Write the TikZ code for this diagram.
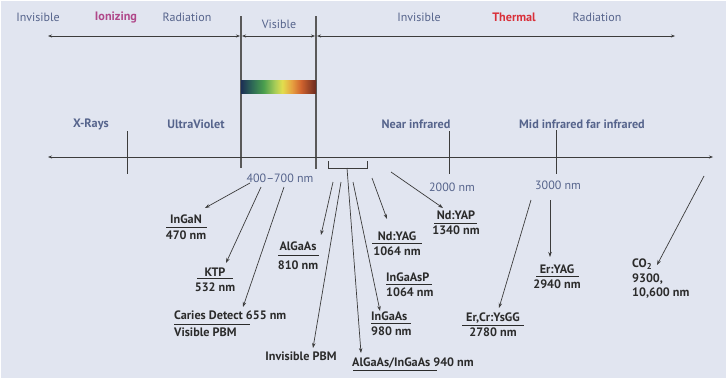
\documentclass[tikz,border=0pt]{standalone}
\usepackage{fontspec}
\setmainfont{PT Sans}
\usetikzlibrary{arrows.meta}
\definecolor{bg}{HTML}{E1E5F0}
\definecolor{slate}{HTML}{56648C}
\definecolor{ion}{HTML}{B0488A}
\definecolor{therm}{HTML}{D9303A}
\definecolor{ink}{HTML}{2B2B2B}
\definecolor{ln}{HTML}{3C3C3C}
\definecolor{sa}{HTML}{1C2F55}
\definecolor{sb}{HTML}{2E6A56}
\definecolor{sc}{HTML}{4A9E4E}
\definecolor{sd}{HTML}{A6CC58}
\definecolor{se}{HTML}{E2DE4E}
\definecolor{sf}{HTML}{E7A040}
\definecolor{sg}{HTML}{D0632E}
\definecolor{sh}{HTML}{6A2A20}
\pgfdeclarehorizontalshading{spec}{100bp}{color(0bp)=(sa); color(25bp)=(sa); color(32.5bp)=(sb); color(40bp)=(sc); color(47.5bp)=(sd); color(52.5bp)=(se); color(59bp)=(sf); color(65bp)=(sg); color(75bp)=(sh); color(100bp)=(sh)}
\tikzset{
  toptxt/.style={text=slate, font=\fontsize{12}{14}\selectfont, inner sep=0pt},
  bandtxt/.style={text=slate, font=\fontsize{12.2}{14}\selectfont\bfseries, inner sep=0pt},
  lab/.style={text=ink, font=\fontsize{12.2}{14}\selectfont\bfseries, inner sep=0pt},
  lrule/.style={draw=ink, line width=0.8pt},
  arr/.style={draw=ln, line width=0.7pt, -{Stealth[length=5pt,width=3.5pt]}},
  darr/.style={draw=ln, line width=0.6pt, {Stealth[length=4pt,width=3pt]}-{Stealth[length=4pt,width=3pt]}},
  tickline/.style={draw=ln, line width=0.9pt},
  divline/.style={draw=ln!85, line width=1.1pt},
}
\begin{document}
\begin{tikzpicture}[x=1pt,y=-1pt]
\useasboundingbox (0,0) rectangle (727,381);
\fill[bg] (1,1) rectangle (726,378);

% top texts
\node[toptxt] (inv1) at (38,17) {Invisible};
\node[toptxt, text=ion, font=\fontsize{12.2}{14}\selectfont\bfseries] (ioni) at (116,17) {Ionizing};
\node[toptxt] (rad1) at (187,17) {Radiation};
\node[toptxt] (vis) at (279,24) {Visible};
\node[toptxt] (inv2) at (419,17) {Invisible};
\node[toptxt, text=therm, font=\fontsize{12.2}{14}\selectfont\bfseries] (therm) at (514,17) {Thermal};
\node[toptxt] (rad2) at (597,17) {Radiation};

% dividers
\coordinate (d1t) at (241,16); \coordinate (d1b) at (241,168);
\coordinate (d2t) at (316,16); \coordinate (d2b) at (316,169);
\draw[divline] (d1t) -- (d1b);
\draw[divline] (d2t) -- (d2b);

% top arrows
\coordinate (a1l) at (48,36); \coordinate (a1r) at (240,36);
\coordinate (a2l) at (242,36); \coordinate (a2r) at (315,36);
\coordinate (a3l) at (317,36); \coordinate (a3r) at (675,36);
\draw[darr] (a1l) -- (a1r);
\draw[darr] (a2l) -- (a2r);
\draw[darr] (a3l) -- (a3r);

% spectrum
\shade[shading=spec] (241,80) rectangle (316,93);

% band labels
\node[bandtxt] (xr) at (91,124) {X-Rays};
\node[bandtxt] (uv) at (196,124) {UltraViolet};
\node[bandtxt] (nir) at (416,124) {Near infrared};
\node[bandtxt] (mir) at (582,124) {Mid infrared far infrared};

% axis
\coordinate (axl) at (48,157); \coordinate (axr) at (713,157);
\draw[darr, line width=0.7pt] (axl) -- (axr);
\coordinate (t1t) at (127,131); \coordinate (t1b) at (127,174);
\coordinate (t2t) at (449,131); \coordinate (t2b) at (449,174);
\coordinate (t3t) at (556,130); \coordinate (t3b) at (556,174);
\draw[tickline] (t1t) -- (t1b);
\draw[tickline] (t2t) -- (t2b);
\draw[tickline] (t3t) -- (t3b);

% bracket
\coordinate (bl) at (328,161); \coordinate (br) at (367,161);
\coordinate (brk) at (347,168);
\draw[ln, line width=0.8pt] (bl) -- (328,168) -- (367,168) -- (br);

% nm labels
\node[toptxt] (vr) at (280,178) {400–700 nm};
\node[toptxt] (n2k) at (452,187) {2000 nm};
\node[toptxt] (n3k) at (558,185) {3000 nm};

% laser labels
\node[lab] (ingan) at (186,219) {InGaN};
\node[lab] (ingann) at (186,235) {470 nm};
\draw[lrule] (166,227) -- (207,227);

\node[lab] (ktp) at (215,272) {KTP};
\node[lab] (ktpn) at (215,287) {532 nm};
\draw[lrule] (197,278) -- (233,278);

\node[lab, anchor=west] (car) at (174,315) {Caries Detect 655 nm};
\node[lab, anchor=west] (visp) at (174,332) {Visible PBM};
\draw[lrule] (174,324) -- (250,324);

\node[lab] (algaas) at (298,246) {AlGaAs};
\node[lab] (algaasn) at (298,265) {810 nm};
\draw[lrule] (278,255) -- (319,255);

\node[lab] (invp) at (301,356) {Invisible PBM};

\node[lab, anchor=west] (aig) at (352,363) {AlGaAs/InGaAs 940 nm};
\draw[lrule] (353,370) -- (437,370);

\node[lab, anchor=west] (ingaas) at (371,316) {InGaAs};
\node[lab, anchor=west] (ingaasn) at (371,331) {980 nm};
\draw[lrule] (371,323.5) -- (411,323.5);

\node[lab, anchor=west] (ingaasp) at (386,277) {InGaAsP};
\node[lab, anchor=west] (ingaaspn) at (386,292) {1064 nm};
\draw[lrule] (386,284.5) -- (432,284.5);

\node[lab] (ndyag) at (397,236) {Nd:YAG};
\node[lab] (ndyagn) at (397,251) {1064 nm};
\draw[lrule] (372,243.5) -- (422,243.5);

\node[lab] (ndyap) at (456,215) {Nd:YAP};
\node[lab] (ndyapn) at (456,230) {1340 nm};
\draw[lrule] (434,223) -- (477,223);

\node[lab] (eryag) at (557,269) {Er:YAG};
\node[lab] (eryagn) at (557,284) {2940 nm};
\draw[lrule] (536,276) -- (579,276);

\node[lab] (ercr) at (493,318) {Er,Cr:YsGG};
\node[lab] (ercrn) at (493,332) {2780 nm};
\draw[lrule] (462,325) -- (524,325);

\node[lab, anchor=west] (co2) at (632,264) {CO\textsubscript{2}};
\node[lab, anchor=west] (co2a) at (632,279) {9300,};
\node[lab, anchor=west] (co2b) at (632,293) {10,600 nm};

% arrow sources
\coordinate (s1) at (250,183);
\coordinate (s2) at (261,187);
\coordinate (s3) at (284,187);
\coordinate (s4) at (333,182);
\coordinate (s5) at (341,182);
\coordinate (s7) at (353,182);
\coordinate (s8) at (372,178);
\coordinate (s9) at (391,172);
\coordinate (s10) at (531,200);
\coordinate (s11) at (550,200);
\coordinate (s12) at (704,176);

% arrow targets
\coordinate (e1) at (205,208);
\coordinate (e2) at (226,263);
\coordinate (e3) at (243,307);
\coordinate (e4) at (321,235);
\coordinate (e5) at (313,348);
\coordinate (e6) at (361,353);
\coordinate (e7) at (380,311);
\coordinate (e8) at (387,219);
\coordinate (e9) at (443,208);
\coordinate (e10) at (499,308);
\coordinate (e11) at (550,257);
\coordinate (e12) at (657,265);

\draw[arr] (s1) -- (e1);
\draw[arr] (s2) -- (e2);
\draw[arr] (s3) -- (e3);
\draw[arr] (s4) -- (e4);
\draw[arr] (s5) -- (e5);
\draw[arr] (brk) -- (e6);
\draw[arr] (s7) -- (e7);
\draw[arr] (s8) -- (e8);
\draw[arr] (s9) -- (e9);
\draw[arr] (s10) -- (e10);
\draw[arr] (s11) -- (e11);
\draw[arr] (s12) -- (e12);
\end{tikzpicture}
\end{document}
